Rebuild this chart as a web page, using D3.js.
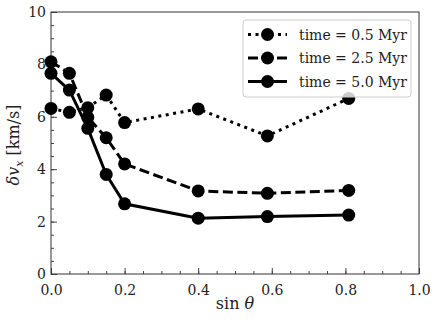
<!DOCTYPE html>
<html>
<head>
<meta charset="utf-8">
<script src="https://cdn.jsdelivr.net/npm/d3@7"></script>
<style>
  body { margin: 0; background: #fff; }
  svg text { font-family: 'DejaVu Serif', serif !important; }
</style>
</head>
<body>
<div id="chart"></div>
<script>
// sin(theta) sample positions
var sinTheta = [0.0, 0.05, 0.1, 0.15, 0.2, 0.4, 0.588, 0.809];
var dv05 = [6.32, 6.17, 6.35, 6.83, 5.78, 6.30, 5.27, 6.70];
var dv25 = [8.10, 7.66, 5.98, 5.20, 4.20, 3.17, 3.08, 3.19];
var dv50 = [7.66, 7.02, 5.56, 3.80, 2.68, 2.13, 2.19, 2.25];
var seriesLabels = ["time = 0.5 Myr", "time = 2.5 Myr", "time = 5.0 Myr"];
var xTicks = [0, 0.2, 0.4, 0.6, 0.8, 1.0];
var yTicks = [0, 2, 4, 6, 8, 10];

var width = 436, height = 323;
var margin = { top: 12, right: 17, bottom: 49, left: 51 };

var series = [
  { label: seriesLabels[0], values: dv05, dash: "3,4.5" },
  { label: seriesLabels[1], values: dv25, dash: "10,4.5" },
  { label: seriesLabels[2], values: dv50, dash: null },
];

var svg = d3
  .select("#chart")
  .append("svg")
  .attr("width", width)
  .attr("height", height);

var xScale = d3
  .scaleLinear()
  .domain([0, 1])
  .range([margin.left, width - margin.right]);

var yScale = d3
  .scaleLinear()
  .domain([0, 10])
  .range([height - margin.bottom, margin.top]);

var xMinor = d3.range(0, 1.0001, 0.05);
var yMinor = d3.range(0, 10.001, 0.5);

function styleAxis(g) {
  g.attr("font-family", null);
  g.select(".domain").remove();
  g.selectAll("line").attr("stroke", "#444");
  g.selectAll("text").attr("font-size", 14).attr("fill", "#222");
}

svg
  .append("g")
  .attr("transform", `translate(0,${yScale(0)})`)
  .call(d3.axisBottom(xScale).tickValues(xMinor).tickSize(-3).tickFormat(""))
  .call(styleAxis);

svg
  .append("g")
  .attr("transform", `translate(${xScale(0)},0)`)
  .call(d3.axisLeft(yScale).tickValues(yMinor).tickSize(-3).tickFormat(""))
  .call(styleAxis);

svg
  .append("g")
  .attr("transform", `translate(0,${yScale(0)})`)
  .call(
    d3
      .axisBottom(xScale)
      .tickValues(xTicks)
      .tickSize(-6)
      .tickPadding(11)
      .tickFormat(d3.format(".1f"))
  )
  .call(styleAxis);

svg
  .append("g")
  .attr("transform", `translate(${xScale(0)},0)`)
  .call(
    d3
      .axisLeft(yScale)
      .tickValues(yTicks)
      .tickSize(-6)
      .tickPadding(5)
      .tickFormat(d3.format("d"))
  )
  .call(styleAxis);

// frame
svg
  .append("rect")
  .attr("x", xScale(0))
  .attr("y", yScale(10))
  .attr("width", xScale(1) - xScale(0))
  .attr("height", yScale(0) - yScale(10))
  .attr("fill", "none")
  .attr("stroke", "#333")
  .attr("stroke-width", 1);

var line = d3
  .line()
  .x((d, i) => xScale(sinTheta[i]))
  .y((d) => yScale(d));

series.forEach(function (s) {
  svg
    .append("path")
    .datum(s.values)
    .attr("d", line)
    .attr("fill", "none")
    .attr("stroke", "#000")
    .attr("stroke-width", 3)
    .attr("stroke-dasharray", s.dash);

  svg
    .append("g")
    .selectAll()
    .data(s.values)
    .join("circle")
    .attr("cx", (d, i) => xScale(sinTheta[i]))
    .attr("cy", (d) => yScale(d))
    .attr("r", 6.5)
    .attr("fill", "#000");
});

// legend
var legend = svg.append("g").attr("transform", "translate(243,20)");

legend
  .append("rect")
  .attr("width", 168)
  .attr("height", 77)
  .attr("rx", 3)
  .attr("fill", "#fff")
  .attr("fill-opacity", 0.8)
  .attr("stroke", "#ccc");

series.forEach(function (s, i) {
  var y = 14.5 + i * 23.5;
  legend
    .append("line")
    .attr("x1", 5)
    .attr("x2", 44)
    .attr("y1", y)
    .attr("y2", y)
    .attr("stroke", "#000")
    .attr("stroke-width", 3)
    .attr("stroke-dasharray", s.dash);
  legend
    .append("circle")
    .attr("cx", 24.5)
    .attr("cy", y)
    .attr("r", 6.5)
    .attr("fill", "#000");
  legend
    .append("text")
    .attr("x", 56)
    .attr("y", y + 5)
    .attr("font-size", 14)
    .attr("fill", "#222")
    .text(s.label);
});

// axis labels
svg
  .append("text")
  .attr("x", 235)
  .attr("y", 309)
  .attr("text-anchor", "middle")
  .attr("font-size", 16)
  .attr("fill", "#222")
  .call((t) => {
    t.append("tspan").text("sin ");
    t.append("tspan").attr("font-style", "italic").text("θ");
  });

svg
  .append("text")
  .attr("transform", "translate(19,145) rotate(-90)")
  .attr("text-anchor", "middle")
  .attr("font-size", 16)
  .attr("fill", "#222")
  .call((t) => {
    t.append("tspan").attr("font-style", "italic").text("δv");
    t.append("tspan").attr("font-style", "italic").attr("font-size", 11).attr("dy", 4).text("x");
    t.append("tspan").attr("dy", -4).text(" [km/s]");
  });
</script>
</body>
</html>
